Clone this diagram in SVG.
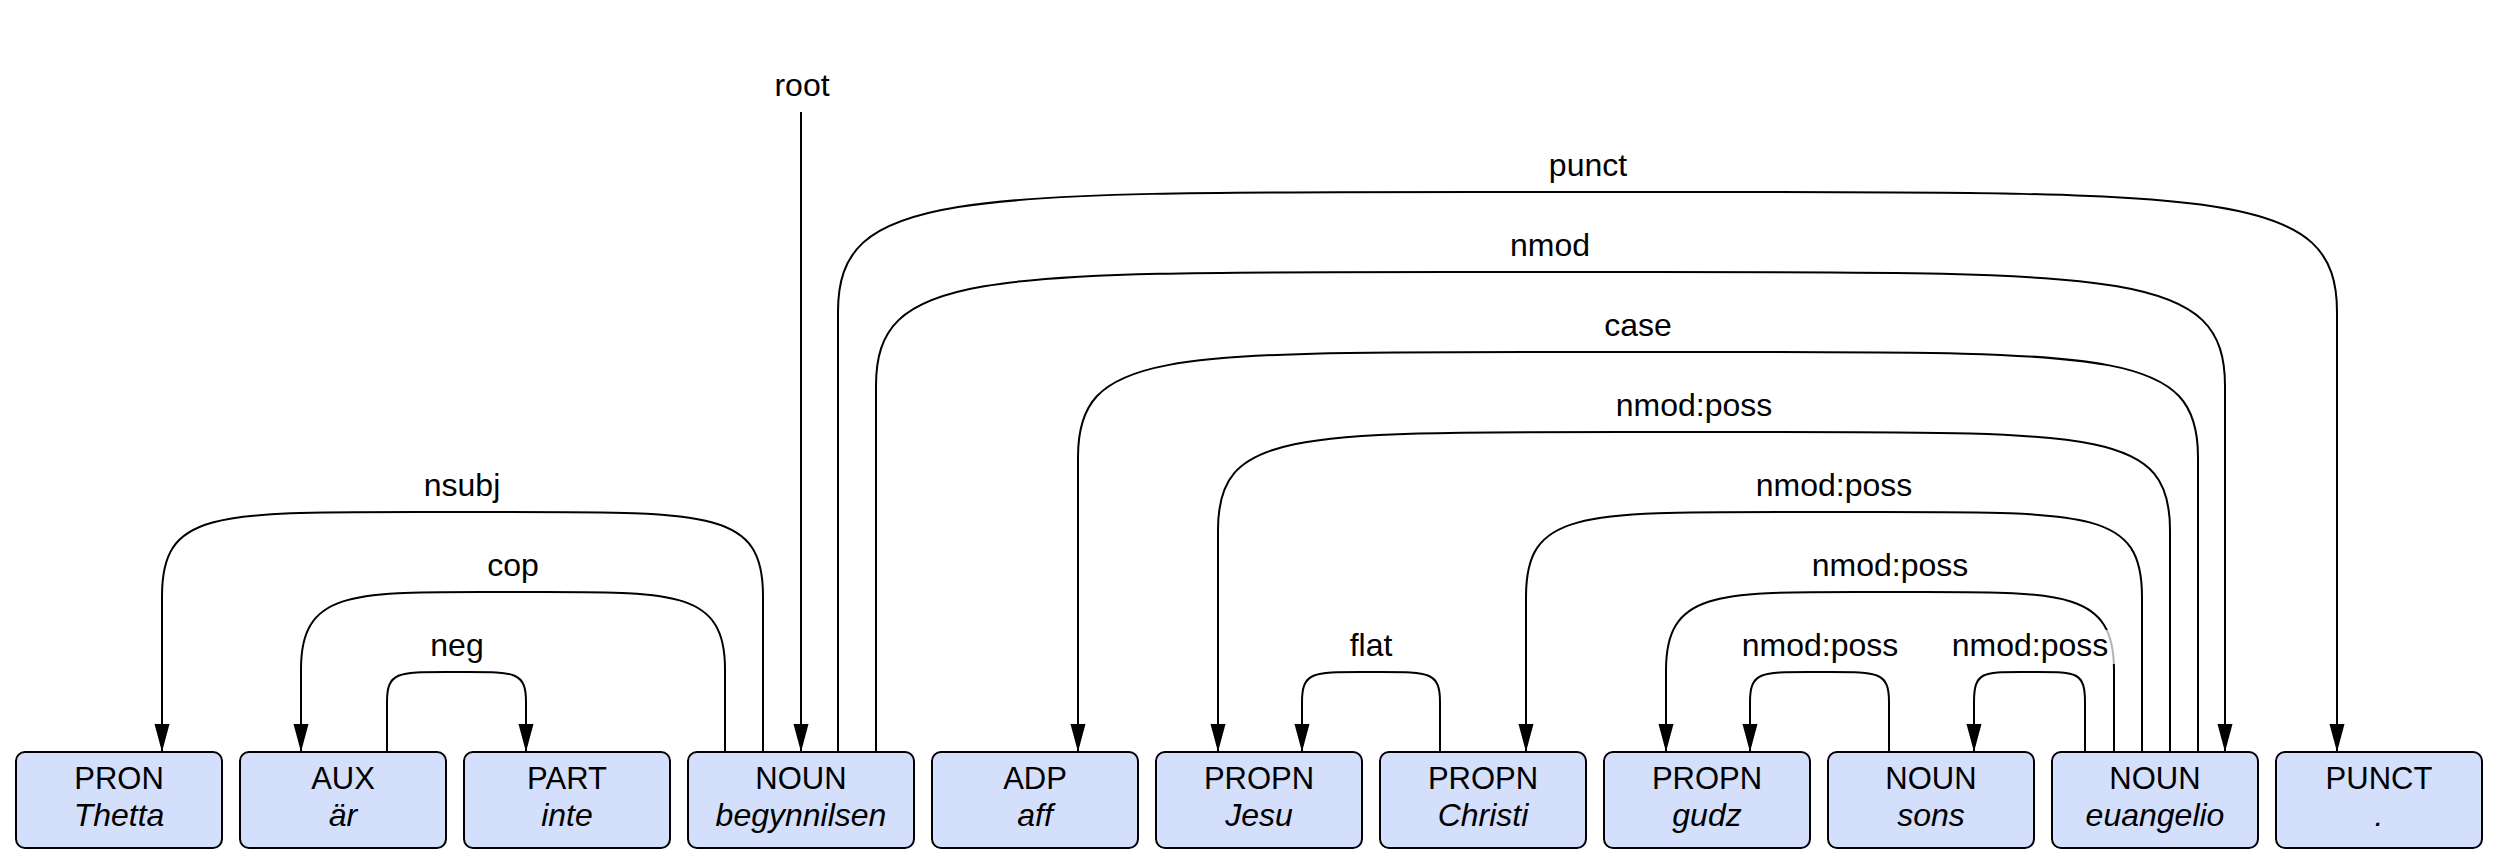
<svg xmlns="http://www.w3.org/2000/svg" width="2507" height="868" viewBox="0 0 2507 868">
<style>
.box{fill:#d3dffb;stroke:#000;stroke-width:2}
.pos{font-family:"Liberation Sans",Arial,sans-serif;font-size:31px;text-anchor:middle;fill:#000}
.word{font-family:"Liberation Sans",Arial,sans-serif;font-size:32px;font-style:italic;text-anchor:middle;fill:#000}
.arc{fill:none;stroke:#000;stroke-width:2;marker-end:url(#ah)}
.lbl{font-family:"Liberation Sans",Arial,sans-serif;font-size:32px;text-anchor:middle;fill:#000}
.lblbg{fill:#fff;fill-opacity:0.7}
</style>
<defs>
<marker id="ah" viewBox="0 -8 28 16" refX="28" refY="0" markerWidth="28" markerHeight="16" markerUnits="userSpaceOnUse" orient="auto">
<path d="M0,-7.5 L28,0 L0,7.5 z" fill="#000"/>
</marker>
</defs>
<rect width="2507" height="868" fill="#fff"/>
<g id="connectors">
<path id="e-root" class="arc" d="M801,112 L801,752"/>
<path id="e-nsubj" class="arc" d="M763,752 L763,596 C763,512 713,512 508,512 L417,512 C212,512 162,512 162,596 L162,752"/>
<path id="e-cop" class="arc" d="M725,752 L725,669 C725,592 675,592 545,592 L481,592 C351,592 301,592 301,669 L301,752"/>
<path id="e-neg" class="arc" d="M387,752 L387,702 C387,672 398,672 446,672 L467,672 C515,672 526,672 526,702 L526,752"/>
<path id="e-punct" class="arc" d="M838,752 L838,312 C838,192 946,192 1475,192 L1700,192 C2229,192 2337,192 2337,312 L2337,752"/>
<path id="e-nmod" class="arc" d="M876,752 L876,386 C876,272 973,272 1449,272 L1652,272 C2128,272 2225,272 2225,386 L2225,752"/>
<path id="e-case" class="arc" d="M2198,752 L2198,457 C2198,352 2117,352 1722,352 L1554,352 C1159,352 1078,352 1078,457 L1078,752"/>
<path id="e-poss1" class="arc" d="M2170,752 L2170,530 C2170,432 2101,432 1765,432 L1623,432 C1287,432 1218,432 1218,530 L1218,752"/>
<path id="e-poss2" class="arc" d="M2142,752 L2142,597 C2142,512 2092,512 1880,512 L1788,512 C1576,512 1526,512 1526,597 L1526,752"/>
<path id="e-flat" class="arc" d="M1440,752 L1440,702 C1440,672 1429,672 1381,672 L1361,672 C1313,672 1302,672 1302,702 L1302,752"/>
<path id="e-poss3" class="arc" d="M2114,752 L2114,670 C2114,592 2064,592 1924,592 L1856,592 C1716,592 1666,592 1666,670 L1666,752"/>
<path id="e-poss4" class="arc" d="M1889,752 L1889,702 C1889,672 1878,672 1830,672 L1809,672 C1761,672 1750,672 1750,702 L1750,752"/>
<path id="e-poss5" class="arc" d="M2085,752 L2085,702 C2085,672 2076,672 2038,672 L2021,672 C1983,672 1974,672 1974,702 L1974,752"/>
</g>
<g id="labels">
<text class="lbl" x="802" y="96">root</text>
<text class="lbl" x="1588" y="176">punct</text>
<text class="lbl" x="1550" y="256">nmod</text>
<text class="lbl" x="1638" y="336">case</text>
<text class="lbl" x="1694" y="416">nmod:poss</text>
<text class="lbl" x="462" y="496">nsubj</text>
<text class="lbl" x="1834" y="496">nmod:poss</text>
<text class="lbl" x="513" y="576">cop</text>
<text class="lbl" x="1890" y="576">nmod:poss</text>
<text class="lbl" x="457" y="656">neg</text>
<text class="lbl" x="1371" y="656">flat</text>
<text class="lbl" x="1820" y="656">nmod:poss</text>
<rect class="lblbg" x="1948" y="630" width="167" height="34"/>
<text class="lbl" x="2030" y="656">nmod:poss</text>
</g>
<g id="n1"><rect class="box" x="16" y="752" width="206" height="96" rx="9"/><text class="pos" x="119" y="789">PRON</text><text class="word" x="119" y="826">Thetta</text></g>
<g id="n2"><rect class="box" x="240" y="752" width="206" height="96" rx="9"/><text class="pos" x="343" y="789">AUX</text><text class="word" x="343" y="826">är</text></g>
<g id="n3"><rect class="box" x="464" y="752" width="206" height="96" rx="9"/><text class="pos" x="567" y="789">PART</text><text class="word" x="567" y="826">inte</text></g>
<g id="n4"><rect class="box" x="688" y="752" width="226" height="96" rx="9"/><text class="pos" x="801" y="789">NOUN</text><text class="word" x="801" y="826">begynnilsen</text></g>
<g id="n5"><rect class="box" x="932" y="752" width="206" height="96" rx="9"/><text class="pos" x="1035" y="789">ADP</text><text class="word" x="1035" y="826">aff</text></g>
<g id="n6"><rect class="box" x="1156" y="752" width="206" height="96" rx="9"/><text class="pos" x="1259" y="789">PROPN</text><text class="word" x="1259" y="826">Jesu</text></g>
<g id="n7"><rect class="box" x="1380" y="752" width="206" height="96" rx="9"/><text class="pos" x="1483" y="789">PROPN</text><text class="word" x="1483" y="826">Christi</text></g>
<g id="n8"><rect class="box" x="1604" y="752" width="206" height="96" rx="9"/><text class="pos" x="1707" y="789">PROPN</text><text class="word" x="1707" y="826">gudz</text></g>
<g id="n9"><rect class="box" x="1828" y="752" width="206" height="96" rx="9"/><text class="pos" x="1931" y="789">NOUN</text><text class="word" x="1931" y="826">sons</text></g>
<g id="n10"><rect class="box" x="2052" y="752" width="206" height="96" rx="9"/><text class="pos" x="2155" y="789">NOUN</text><text class="word" x="2155" y="826">euangelio</text></g>
<g id="n11"><rect class="box" x="2276" y="752" width="206" height="96" rx="9"/><text class="pos" x="2379" y="789">PUNCT</text><text class="word" x="2379" y="826">.</text></g>
</svg>
